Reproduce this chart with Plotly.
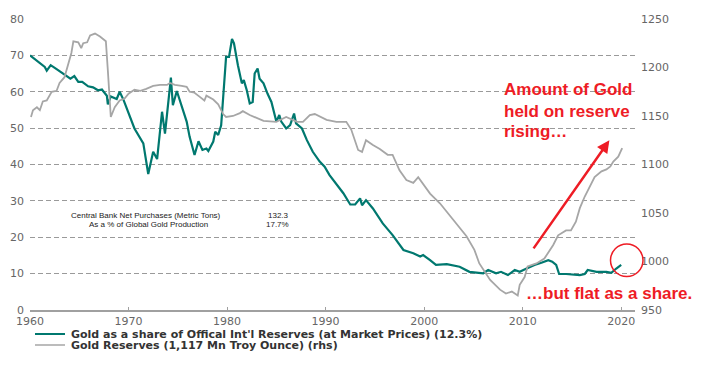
import plotly.graph_objects as go

# ---- data ----
share_years = [1960.0,1961.0,1961.5,1961.7,1962.1,1962.7,1963.5,1964.1,1964.5,1964.9,
               1965.3,1965.9,1966.4,1966.9,1967.3,1967.8,1967.9,1968.2,1968.8,1969.1,
               1969.5,1970.1,1970.6,1971.5,1972.0,1972.5,1972.9,1973.4,1973.7,1974.3,
               1974.5,1974.9,1975.2,1975.9,1976.2,1976.7,1977.1,1977.5,1977.9,1978.1,
               1978.6,1978.8,1979.1,1979.4,1979.9,1980.2,1980.5,1980.7,1981.1,1981.5,
               1981.7,1982.0,1982.3,1982.6,1982.8,1983.1,1983.3,1983.7,1984.1,1984.5,
               1985.0,1985.3,1985.5,1986.0,1986.4,1986.8,1987.0,1987.6,1988.1,1988.7,
               1989.4,1989.9,1990.4,1990.8,1991.3,1991.8,1992.5,1993.0,1993.5,1993.7,
               1994.1,1994.8,1995.8,1996.8,1997.9,1998.9,1999.6,1999.9,2000.6,2001.2,
               2002.3,2003.6,2004.6,2005.3,2006.0,2006.5,2007.3,2007.8,2008.5,2009.2,
               2009.7,2010.4,2011.2,2011.9,2012.6,2013.0,2013.4,2013.7,2014.4,2015.8,
               2016.3,2016.6,2017.5,2018.5,2019.0,2019.5,2020.0]
share_values = [70.0,67.8,66.8,65.8,67.3,66.2,64.8,63.6,64.3,62.7,
                62.7,61.5,61.2,60.4,60.6,58.9,56.5,58.7,58.0,60.0,
                57.7,53.6,49.9,45.8,37.4,43.5,41.5,54.5,48.5,63.9,
                56.3,60.2,57.5,51.8,47.6,42.6,46.4,44.0,44.4,43.7,
                46.3,49.0,48.1,50.8,69.6,69.6,74.5,73.3,67.3,62.3,
                63.2,60.4,56.8,57.2,65.0,66.4,63.6,62.3,59.5,57.2,
                51.8,53.6,51.8,49.9,50.8,54.0,51.3,49.9,46.7,43.5,
                40.8,39.4,37.1,35.7,33.9,32.1,29.0,29.0,30.7,28.8,
                30.2,27.9,23.8,20.6,16.5,15.6,14.7,15.1,13.7,12.4,
                12.6,11.9,10.5,10.2,10.1,11.0,10.1,10.5,9.6,11.0,
                10.5,11.4,12.4,13.0,13.7,13.3,12.4,9.9,9.9,9.6,
                9.9,11.0,10.5,10.5,10.2,11.4,12.4]

reserve_years = [1960.1,1960.3,1960.7,1961.0,1961.3,1961.7,1962.2,1962.7,1963.0,1963.5,
                 1964.2,1964.4,1964.9,1965.2,1965.4,1965.8,1966.1,1966.6,1967.1,1967.7,
                 1967.9,1968.2,1968.6,1969.1,1969.6,1970.0,1970.6,1971.2,1971.8,1972.5,
                 1973.2,1973.9,1974.2,1974.7,1975.4,1975.9,1976.2,1976.7,1977.2,1977.7,
                 1977.9,1978.6,1979.1,1979.6,1979.9,1980.6,1981.3,1981.6,1982.3,1983.7,
                 1985.0,1986.0,1987.1,1987.7,1988.4,1988.9,1990.1,1991.1,1992.1,1992.6,
                 1993.3,1993.7,1994.1,1994.8,1995.5,1996.3,1996.8,1997.5,1998.2,1998.9,
                 1999.4,2000.6,2001.6,2002.4,2003.3,2004.3,2005.1,2005.6,2006.7,2007.7,
                 2008.3,2008.9,2009.5,2009.7,2010.2,2010.5,2011.4,2012.2,2013.1,2013.6,
                 2014.4,2014.9,2015.4,2015.8,2016.3,2016.8,2017.3,2018.0,2018.5,2018.9,
                 2019.2,2019.7,2020.1]
reserve_values = [1149,1156,1159,1156,1165,1166,1175,1176,1184,1190,
                  1215,1227,1226,1220,1225,1226,1233,1235,1232,1227,
                  1197,1149,1159,1166,1168,1173,1177,1176,1178,1181,
                  1182,1182,1184,1182,1181,1180,1175,1174,1170,1166,
                  1171,1167,1162,1152,1149,1150,1153,1155,1151,1145,
                  1144,1149,1144,1144,1151,1152,1146,1144,1144,1136,
                  1115,1113,1125,1120,1116,1110,1110,1094,1084,1081,
                  1087,1070,1060,1050,1039,1026,1012,998,981,971,
                  967,969,965,976,984,995,998,1003,1017,1027,
                  1032,1032,1041,1055,1067,1077,1087,1093,1095,1098,
                  1103,1108,1117]

x_ticks = [1960, 1970, 1980, 1990, 2000, 2010, 2020]
left_ticks = [0, 10, 20, 30, 40, 50, 60, 70, 80]
right_ticks = [950, 1000, 1050, 1100, 1150, 1200, 1250]

share_name = "Gold as a share of Offical Int'l Reserves (at Market Prices) (12.3%)"
reserve_name = "Gold Reserves (1,117 Mn Troy Ounce) (rhs)"

TEAL = "#00786F"
GRAY = "#A6A6A6"
RED = "#EE1C25"
TICKFONT = dict(family="DejaVu Sans", size=11, color="#666666")
CALLOUT = "Liberation Sans, Arial"

fig = go.Figure()
fig.add_trace(go.Scatter(x=reserve_years, y=reserve_values, yaxis="y2", mode="lines",
                         line=dict(color=GRAY, width=1.8), name=reserve_name, showlegend=False))
fig.add_trace(go.Scatter(x=share_years, y=share_values, mode="lines",
                         line=dict(color=TEAL, width=2.2), name=share_name, showlegend=False))

# page body has an 8px margin, so the figure is offset by 8px in the window
OFF = 8
L, R, T, B = 22, 66, 11, 55
W, H = 701 - OFF, 365 - OFF
pw, ph = W - L - R, H - T - B


def px(xp):
    return (xp - OFF - L) / pw


def py(yp):
    return (H - B - (yp - OFF)) / ph


fig.update_layout(
    width=W, height=H,
    margin=dict(l=L, r=R, t=T, b=B, pad=0, autoexpand=False),
    paper_bgcolor="white", plot_bgcolor="white",
    xaxis=dict(range=[1960, 2021.4], tickvals=x_ticks, showgrid=False, zeroline=False,
               showline=True, linecolor="#A0A0A0", linewidth=2,
               ticks="inside", ticklen=3, tickcolor="#A0A0A0",
               tickfont=TICKFONT, ticklabelstandoff=0, automargin=False),
    yaxis=dict(range=[0, 80], tickvals=left_ticks, showgrid=True, gridcolor="#9A9A9A",
               griddash="5px,3px", gridwidth=1, zeroline=False, showline=False,
               tickfont=TICKFONT, ticklabelstandoff=5, automargin=False),
    yaxis2=dict(range=[950, 1250], tickvals=right_ticks, overlaying="y", side="right",
                showgrid=False, zeroline=False, showline=False,
                tickfont=TICKFONT, ticklabelstandoff=5, automargin=False),
    showlegend=False,
)

# manual legend
fig.add_shape(type="line", xref="paper", yref="paper", x0=px(35), x1=px(65), y0=py(334), y1=py(334),
              line=dict(color=TEAL, width=2))
fig.add_shape(type="line", xref="paper", yref="paper", x0=px(35), x1=px(65), y0=py(345), y1=py(345),
              line=dict(color=GRAY, width=1.5))
legend_font = dict(family="DejaVu Sans", size=11, color="#333333")
fig.add_annotation(xref="paper", yref="paper", x=px(69), y=py(334), text="<b>" + share_name + "</b>",
                   showarrow=False, xanchor="left", yanchor="middle", font=legend_font)
fig.add_annotation(xref="paper", yref="paper", x=px(69), y=py(345), text="<b>" + reserve_name + "</b>",
                   showarrow=False, xanchor="left", yanchor="middle", font=legend_font)

# small stats box
small = dict(family="Liberation Sans, Arial", size=8, color="#222222")
fig.add_annotation(xref="paper", yref="paper", x=px(146), y=py(215), text="Central Bank Net Purchases (Metric Tons)",
                   showarrow=False, xanchor="center", yanchor="middle", font=small)
fig.add_annotation(xref="paper", yref="paper", x=px(148), y=py(225), text="As a % of Global Gold Production",
                   showarrow=False, xanchor="center", yanchor="middle", font=small)
fig.add_annotation(xref="paper", yref="paper", x=px(291), y=py(215), text="132.3",
                   showarrow=False, xanchor="right", yanchor="middle", font=small)
fig.add_annotation(xref="paper", yref="paper", x=px(291), y=py(225), text="17.7%",
                   showarrow=False, xanchor="right", yanchor="middle", font=small)

# red call-outs
red_font = dict(family=CALLOUT, size=17, color=RED)
for txt, yy in [("Amount of Gold", 89), ("held on reserve", 111), ("rising…", 132)]:
    fig.add_annotation(xref="paper", yref="paper", x=px(502), y=py(yy), text="<b>" + txt + "</b>",
                       showarrow=False, xanchor="left", yanchor="middle", font=red_font)
fig.add_annotation(xref="paper", yref="paper", x=px(524), y=py(293), text="<b>…but flat as a share.</b>",
                   showarrow=False, xanchor="left", yanchor="middle", font=red_font)

# arrow
fig.add_annotation(xref="x", yref="y2", x=2018.8, y=1125, axref="x", ayref="y2", ax=2011.0, ay=1012,
                   text="", showarrow=True, arrowhead=2, arrowsize=1, arrowwidth=2.5, arrowcolor=RED)
# circle
fig.add_shape(type="circle", xref="paper", yref="paper", x0=px(610.5), x1=px(643), y0=py(276.5), y1=py(244),
              line=dict(color=RED, width=1.5))

fig.write_html("out.html")
